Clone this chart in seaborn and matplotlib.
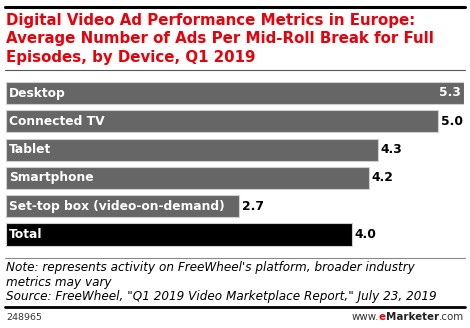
import matplotlib
matplotlib.use("Agg")
import matplotlib.pyplot as plt
import seaborn as sns
import pandas as pd
from matplotlib.lines import Line2D

categories = ["Desktop", "Connected TV", "Tablet", "Smartphone",
              "Set-top box (video-on-demand)", "Total"]
values = [5.3, 5.0, 4.3, 4.2, 2.7, 4.0]
value_labels = ["5.3", "5.0", "4.3", "4.2", "2.7", "4.0"]
bar_colors = ["#666666", "#666666", "#666666", "#666666", "#666666", "#000000"]

title_lines = ["Digital Video Ad Performance Metrics in Europe:",
               "Average Number of Ads Per Mid-Roll Break for Full",
               "Episodes, by Device, Q1 2019"]
note_lines = ["Note: represents activity on FreeWheel's platform, broader industry",
              "metrics may vary",
              "Source: FreeWheel, \"Q1 2019 Video Marketplace Report,\" July 23, 2019"]
chart_id = "248965"

W, H = 470, 328
sns.set_theme(style="white")
plt.rcParams['font.family'] = ['DejaVu Sans']
fig = plt.figure(figsize=(W / 100, H / 100), dpi=100)

def fx(px):
    return px / W

def fy(py):
    return 1 - py / H

# axes: x from px 6 (0) to 464 (5.3); bar centers at y 93 .. 234.5
pitch = (234.5 - 93) / 5
top = 93 - pitch / 2
bot = 234.5 + pitch / 2
ax = fig.add_axes([fx(6), fy(bot), fx(464 - 6), (bot - top) / H])

df = pd.DataFrame({"cat": categories, "val": values})
sns.barplot(data=df, x="val", y="cat", hue="cat", palette=bar_colors,
            legend=False, orient="h", width=0.78, ax=ax,
            edgecolor="#d0d0d0", linewidth=0.8, saturation=1)
ax.set_xlim(0, 5.3)
ax.set_ylim(5.5, -0.5)
ax.axis("off")

lab_fs = 8.8
for i, (c, v, lab) in enumerate(zip(categories, values, value_labels)):
    ax.text(0.035, i, c, color="white", fontsize=lab_fs, fontweight="bold",
            va="center", ha="left")
    if i == 0:
        ax.text(v - 0.04, i, lab, color="white", fontsize=lab_fs, fontweight="bold",
                va="center", ha="right")
    else:
        ax.text(v + 0.03, i, lab, color="black", fontsize=lab_fs, fontweight="bold",
                va="center", ha="left")

# top black rule
fig.add_artist(Line2D([fx(5), fx(465)], [fy(7), fy(7)], color="black", lw=2.2))
for k, line in enumerate(title_lines):
    fig.text(fx(6), fy(25 + k * 18.3), line, color="#e8000b", fontsize=10.8,
             fontweight="bold", va="baseline", ha="left")
fig.add_artist(Line2D([fx(5), fx(465)], [fy(70), fy(70)], color="#555555", lw=0.8))

# footer
fig.add_artist(Line2D([fx(5), fx(465)], [fy(258), fy(258)], color="#888888", lw=0.8))
for k, line in enumerate(note_lines):
    fig.text(fx(6), fy(271 + k * 14.6), line, color="black", fontsize=8.65,
             style="italic", va="baseline", ha="left")
fig.add_artist(Line2D([fx(5), fx(465)], [fy(307), fy(307)], color="black", lw=2.0))
fig.text(fx(6), fy(320), chart_id, color="#333333", fontsize=6.8, va="baseline", ha="left")
# eMarketer logo text assembled right-aligned
fs_logo = 7.4
t3 = fig.text(fx(464), fy(320), ".com", color="#333333", fontsize=fs_logo,
              va="baseline", ha="right")
fig.canvas.draw()
r = fig.canvas.get_renderer()
bb = t3.get_window_extent(r)
t2 = fig.text(bb.x0 / W, fy(320), "Marketer", color="#222222", fontsize=fs_logo,
              fontweight="bold", va="baseline", ha="right")
bb2 = t2.get_window_extent(r)
t1 = fig.text(bb2.x0 / W, fy(320), "e", color="#e8000b", fontsize=fs_logo,
              fontweight="bold", va="baseline", ha="right")
bb1 = t1.get_window_extent(r)
fig.text(bb1.x0 / W, fy(320), "www.", color="#333333", fontsize=fs_logo,
         va="baseline", ha="right")

fig.savefig("out.png", dpi=100)
